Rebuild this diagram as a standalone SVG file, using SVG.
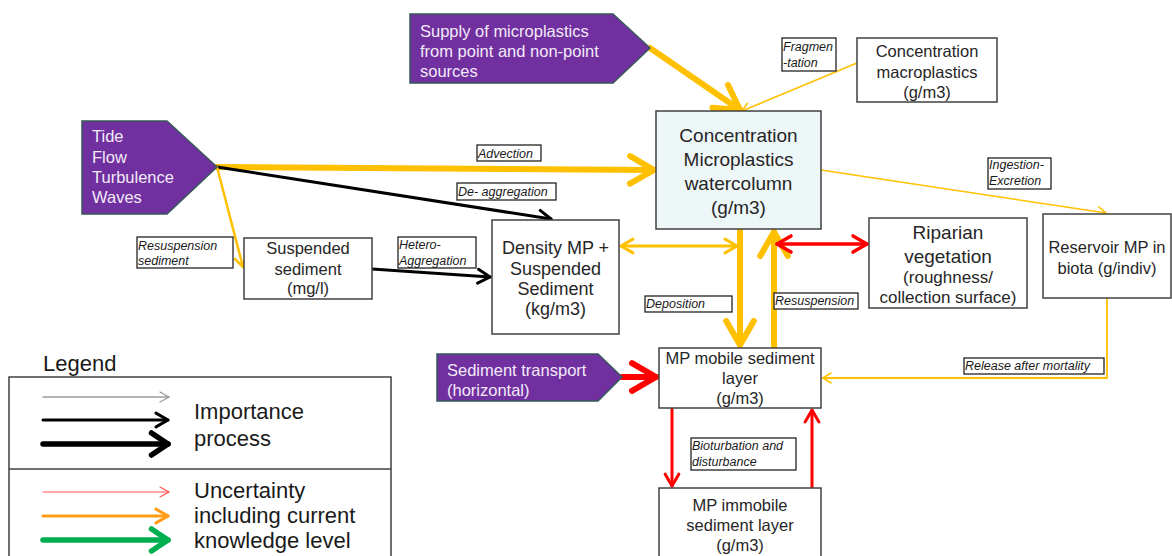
<svg xmlns="http://www.w3.org/2000/svg" width="1172" height="556" viewBox="0 0 1172 556">
<defs>
<style>
.box{fill:#fff;stroke:#404040;stroke-width:1.5}
.src{fill:#7030A0;stroke:#36585A;stroke-width:1.5}
.t{font-family:"Liberation Sans",Arial,sans-serif;fill:#262626;text-anchor:middle}
.w{font-family:"Liberation Sans",Arial,sans-serif;fill:#F3EAF8;font-size:16.5px}
.lb{fill:#fff;stroke:#222;stroke-width:1.3}
.li{font-family:"Liberation Sans",Arial,sans-serif;font-style:italic;font-size:12.5px;fill:#1a1a1a}
.c{fill:none;stroke-linecap:round;stroke-linejoin:round}
.y{stroke:#FFC000}
.k{stroke:#000}
.r{stroke:#FF0000}
.lg{font-family:"Liberation Sans",Arial,sans-serif;font-size:22px;fill:#1a1a1a}
</style>
<marker id="mY" markerUnits="strokeWidth" orient="auto-start-reverse" overflow="visible" refX="0" refY="0" markerWidth="1" markerHeight="1"><path d="M-4,-2.3 L0,0 L-4,2.3" fill="none" stroke="#FFC000" stroke-width="1" stroke-linecap="round" stroke-linejoin="round"/></marker>
<marker id="mK" markerUnits="strokeWidth" orient="auto-start-reverse" overflow="visible" refX="0" refY="0" markerWidth="1" markerHeight="1"><path d="M-4,-2.3 L0,0 L-4,2.3" fill="none" stroke="#000" stroke-width="1" stroke-linecap="round" stroke-linejoin="round"/></marker>
<marker id="mR" markerUnits="strokeWidth" orient="auto-start-reverse" overflow="visible" refX="0" refY="0" markerWidth="1" markerHeight="1"><path d="M-4,-2.3 L0,0 L-4,2.3" fill="none" stroke="#FF0000" stroke-width="1" stroke-linecap="round" stroke-linejoin="round"/></marker>
<marker id="mO" markerUnits="strokeWidth" orient="auto" overflow="visible" refX="0" refY="0" markerWidth="1" markerHeight="1"><path d="M-4,-2.3 L0,0 L-4,2.3" fill="none" stroke="#FF9E16" stroke-width="1" stroke-linecap="round" stroke-linejoin="round"/></marker>
<marker id="mG" markerUnits="strokeWidth" orient="auto" overflow="visible" refX="0" refY="0" markerWidth="1" markerHeight="1"><path d="M-3,-2 L0,0 L-3,2" fill="none" stroke="#00B050" stroke-width="1" stroke-linecap="round" stroke-linejoin="round"/></marker>
<marker id="mK2" markerUnits="strokeWidth" orient="auto" overflow="visible" refX="0" refY="0" markerWidth="1" markerHeight="1"><path d="M-3,-2 L0,0 L-3,2" fill="none" stroke="#000" stroke-width="1" stroke-linecap="round" stroke-linejoin="round"/></marker>
<marker id="tY" markerUnits="userSpaceOnUse" orient="auto" overflow="visible" refX="0" refY="0" markerWidth="1" markerHeight="1"><path d="M-8,-5 L0,0 L-8,5" fill="none" stroke="#FFC000" stroke-width="1.5" stroke-linecap="round" stroke-linejoin="round"/></marker>
<marker id="tGr" markerUnits="userSpaceOnUse" orient="auto" overflow="visible" refX="0" refY="0" markerWidth="1" markerHeight="1"><path d="M-9,-5 L0,0 L-9,5" fill="none" stroke="#9A9A9A" stroke-width="1.3" stroke-linecap="round" stroke-linejoin="round"/></marker>
<marker id="tR" markerUnits="userSpaceOnUse" orient="auto" overflow="visible" refX="0" refY="0" markerWidth="1" markerHeight="1"><path d="M-9,-5 L0,0 L-9,5" fill="none" stroke="#FF5050" stroke-width="1.1" stroke-linecap="round" stroke-linejoin="round"/></marker>
</defs>
<rect width="1172" height="556" fill="#fff"/>

<g id="connectors">
<line class="c y" x1="650" y1="48" x2="740" y2="110" stroke-width="6" marker-end="url(#mY)"/>
<line class="c y" x1="857" y1="63" x2="742" y2="111" stroke-width="1.5" marker-end="url(#tY)"/>
<line class="c y" x1="217" y1="167" x2="654" y2="170" stroke-width="6" marker-end="url(#mY)"/>
<line class="c k" x1="217" y1="167" x2="551" y2="219" stroke-width="3" marker-end="url(#mK)"/>
<line class="c y" x1="217" y1="167" x2="243" y2="267" stroke-width="2.5" marker-end="url(#mY)"/>
<line class="c k" x1="372" y1="269" x2="490" y2="277" stroke-width="3" marker-end="url(#mK)"/>
<line class="c y" x1="621" y1="246" x2="737" y2="246" stroke-width="3" marker-start="url(#mY)" marker-end="url(#mY)"/>
<line class="c y" x1="740" y1="229" x2="740" y2="345" stroke-width="6" marker-end="url(#mY)"/>
<line class="c y" x1="774" y1="348" x2="774" y2="232" stroke-width="6" marker-end="url(#mY)"/>
<line class="c r" x1="777" y1="244" x2="867" y2="244" stroke-width="3.5" marker-start="url(#mR)" marker-end="url(#mR)"/>
<line class="c y" x1="821" y1="170" x2="1106" y2="213" stroke-width="1.5" marker-end="url(#tY)"/>
<polyline class="c y" points="1107,298 1107,378 823,378" stroke-width="1.8" marker-end="url(#tY)"/>
<line class="c r" x1="622" y1="377" x2="656" y2="377" stroke-width="6" marker-end="url(#mR)"/>
<line class="c r" x1="672" y1="409" x2="672" y2="486" stroke-width="3" marker-end="url(#mR)"/>
<line class="c r" x1="812" y1="487" x2="812" y2="410" stroke-width="3" marker-end="url(#mR)"/>
</g>

<g id="supply">
<polygon class="src" points="410,14 613,14 650,48 613,83 410,83"/>
<text class="w" x="420" y="37">Supply of microplastics</text>
<text class="w" x="420" y="57">from point and non-point</text>
<text class="w" x="420" y="77">sources</text>
</g>

<g id="tide">
<polygon class="src" points="82,121 167,121 217,167 167,214 82,214"/>
<text class="w" x="92" y="142">Tide</text>
<text class="w" x="92" y="163">Flow</text>
<text class="w" x="92" y="183">Turbulence</text>
<text class="w" x="92" y="203">Waves</text>
</g>

<g id="sedtransport">
<polygon class="src" points="437,354 598,354 622,377 598,401 437,401"/>
<text class="w" x="447" y="376">Sediment transport</text>
<text class="w" x="447" y="396">(horizontal)</text>
</g>

<g id="macro">
<rect class="box" x="857" y="38" width="140" height="64"/>
<text class="t" x="927" y="57" font-size="16.5">Concentration</text>
<text class="t" x="927" y="78" font-size="16.5">macroplastics</text>
<text class="t" x="927" y="98" font-size="16.5">(g/m3)</text>
</g>

<g id="watercolumn">
<rect class="box" x="656" y="111" width="165" height="118" style="fill:#EEF7F7"/>
<text class="t" x="738.5" y="142" font-size="19">Concentration</text>
<text class="t" x="738.5" y="166" font-size="19">Microplastics</text>
<text class="t" x="738.5" y="190" font-size="19">watercolumn</text>
<text class="t" x="738.5" y="214" font-size="19">(g/m3)</text>
</g>

<g id="suspended">
<rect class="box" x="244" y="238" width="128" height="61"/>
<text class="t" x="308" y="254" font-size="16.5">Suspended</text>
<text class="t" x="308" y="275" font-size="16.5">sediment</text>
<text class="t" x="308" y="294" font-size="16.5">(mg/l)</text>
</g>

<g id="density">
<rect class="box" x="492" y="220" width="127" height="114"/>
<text class="t" x="555.5" y="254" font-size="18">Density MP +</text>
<text class="t" x="555.5" y="275" font-size="18">Suspended</text>
<text class="t" x="555.5" y="295" font-size="18">Sediment</text>
<text class="t" x="555.5" y="315" font-size="18">(kg/m3)</text>
</g>

<g id="riparian">
<rect class="box" x="869" y="218" width="158" height="90"/>
<text class="t" x="948" y="239" font-size="19">Riparian</text>
<text class="t" x="948" y="263" font-size="19">vegetation</text>
<text class="t" x="948" y="283" font-size="17">(roughness/</text>
<text class="t" x="948" y="303" font-size="17">collection surface)</text>
</g>

<g id="reservoir">
<rect class="box" x="1043" y="214" width="128" height="84"/>
<text class="t" x="1107" y="253" font-size="16.5">Reservoir MP in</text>
<text class="t" x="1107" y="274" font-size="16.5">biota (g/indiv)</text>
</g>

<g id="mobile">
<rect class="box" x="659" y="348" width="162" height="60"/>
<text class="t" x="740" y="364" font-size="16.5">MP mobile sediment</text>
<text class="t" x="740" y="384" font-size="16.5">layer</text>
<text class="t" x="740" y="404" font-size="16.5">(g/m3)</text>
</g>

<g id="immobile">
<rect class="box" x="659" y="488" width="162" height="80"/>
<text class="t" x="740" y="511" font-size="16.5">MP immobile</text>
<text class="t" x="740" y="531" font-size="16.5">sediment layer</text>
<text class="t" x="740" y="551" font-size="16.5">(g/m3)</text>
</g>

<g id="labels">
<rect class="lb" x="782" y="38" width="54" height="33"/>
<text class="li" x="783" y="51">Fragmen</text>
<text class="li" x="783" y="67">-tation</text>
<rect class="lb" x="477" y="145" width="64" height="16"/>
<text class="li" x="478" y="157.5">Advection</text>
<rect class="lb" x="457" y="183" width="99" height="17"/>
<text class="li" x="458" y="196">De- aggregation</text>
<rect class="lb" x="137" y="237" width="96" height="31"/>
<text class="li" x="138" y="250">Resuspension</text>
<text class="li" x="138" y="265">sediment</text>
<rect class="lb" x="398" y="237" width="78" height="31"/>
<text class="li" x="399" y="249">Hetero-</text>
<text class="li" x="399" y="265">Aggregation</text>
<rect class="lb" x="988" y="158" width="63" height="31"/>
<text class="li" x="989" y="169">Ingestion-</text>
<text class="li" x="989" y="185">Excretion</text>
<rect class="lb" x="645" y="296" width="87" height="16"/>
<text class="li" x="646" y="308">Deposition</text>
<rect class="lb" x="774" y="293" width="84" height="16"/>
<text class="li" x="775" y="305">Resuspension</text>
<rect class="lb" x="964" y="358" width="140" height="16"/>
<text class="li" x="965" y="370">Release after mortality</text>
<rect class="lb" x="691" y="438" width="105" height="32"/>
<text class="li" x="692" y="450">Bioturbation and</text>
<text class="li" x="692" y="466">disturbance</text>
</g>

<g id="legend">
<text class="lg" x="43" y="371">Legend</text>
<rect x="9" y="377" width="382" height="190" fill="none" stroke="#404040" stroke-width="1.5"/>
<line x1="9" y1="469" x2="391" y2="469" stroke="#404040" stroke-width="1.5"/>
<line class="c" x1="43" y1="397" x2="169" y2="397" stroke="#9A9A9A" stroke-width="1.3" marker-end="url(#tGr)"/>
<line class="c k" x1="43" y1="420" x2="168" y2="420" stroke-width="3" marker-end="url(#mK)"/>
<line class="c k" x1="43" y1="444" x2="168" y2="444" stroke-width="5.5" marker-end="url(#mK2)"/>
<line class="c" x1="43" y1="492" x2="169" y2="492" stroke="#FF5050" stroke-width="1.1" marker-end="url(#tR)"/>
<line class="c" x1="43" y1="516" x2="168" y2="516" stroke="#FF9E16" stroke-width="3" marker-end="url(#mO)"/>
<line class="c" x1="43" y1="540" x2="168" y2="540" stroke="#00B050" stroke-width="5.5" marker-end="url(#mG)"/>
<text class="lg" x="194" y="419">Importance</text>
<text class="lg" x="194" y="446">process</text>
<text class="lg" x="194" y="498">Uncertainty</text>
<text class="lg" x="194" y="523">including current</text>
<text class="lg" x="194" y="548">knowledge level</text>
</g>
</svg>
